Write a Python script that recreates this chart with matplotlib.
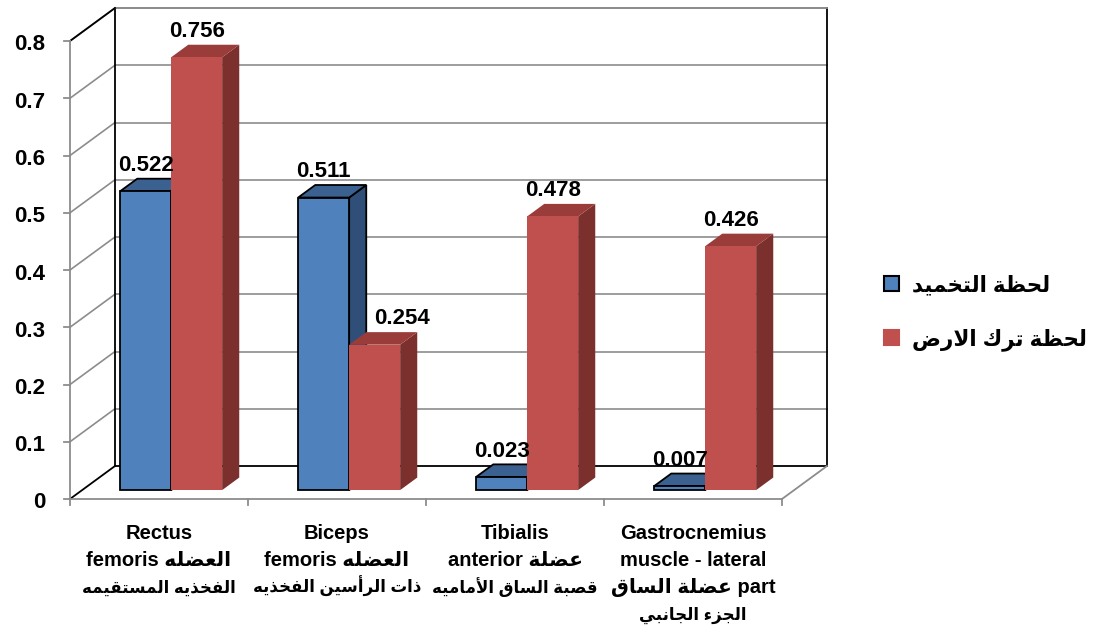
import matplotlib
matplotlib.use("Agg")
import matplotlib.pyplot as plt
from matplotlib.patches import Polygon, Patch

# muscle groups (one label line per list entry)
categories = [
    ["Rectus", "femoris العضله", "الفخذيه المستقيمه"],
    ["Biceps", "femoris العضله", "ذات الرأسين الفخذيه"],
    ["Tibialis", "anterior عضلة", "قصبة الساق الأماميه"],
    ["Gastrocnemius", "muscle - lateral", "عضلة الساق part", "الجزء الجانبي"],
]
series_names = ["لحظة التخميد", "لحظة ترك الارض"]
damping = [0.522, 0.511, 0.023, 0.007]
takeoff = [0.756, 0.254, 0.478, 0.426]
yticks = [0, 0.1, 0.2, 0.3, 0.4, 0.5, 0.6, 0.7, 0.8]

# ---- simple Arabic shaping (presentation forms, visual order) ----
BASES = {'ء': 0xFE80, 'آ': 0xFE81, 'أ': 0xFE83, 'إ': 0xFE87, 'ا': 0xFE8D,
         'ب': 0xFE8F, 'ة': 0xFE93, 'ت': 0xFE95, 'ث': 0xFE99, 'ج': 0xFE9D,
         'ح': 0xFEA1, 'خ': 0xFEA5, 'د': 0xFEA9, 'ذ': 0xFEAB, 'ر': 0xFEAD,
         'ز': 0xFEAF, 'س': 0xFEB1, 'ش': 0xFEB5, 'ص': 0xFEB9, 'ض': 0xFEBD,
         'ط': 0xFEC1, 'ظ': 0xFEC5, 'ع': 0xFEC9, 'غ': 0xFECD, 'ف': 0xFED1,
         'ق': 0xFED5, 'ك': 0xFED9, 'ل': 0xFEDD, 'م': 0xFEE1, 'ن': 0xFEE5,
         'ه': 0xFEE9, 'و': 0xFEED, 'ي': 0xFEF1}
DUAL = set('بتثجحخسشصضطظعغفقكلمنهي')
RIGHT = set('آأإادذرزوة')
LAM_ALEF = {'ا': 0xFEFB, 'أ': 0xFEF7, 'إ': 0xFEF9, 'آ': 0xFEF5}


def is_arabic(w):
    return any('\u0600' <= ch <= '\u06ff' for ch in w)


def shape_word(w):
    units = []
    i = 0
    while i < len(w):
        if w[i] == 'ل' and i + 1 < len(w) and w[i + 1] in LAM_ALEF:
            units.append(('LA', w[i + 1]))
            i += 2
        else:
            units.append(('C', w[i]))
            i += 1

    def jtype(u):
        if u[0] == 'LA':
            return 'R'
        c = u[1]
        return 'D' if c in DUAL else ('R' if c in RIGHT else 'U')

    out = []
    for k, u in enumerate(units):
        t = jtype(u)
        prev = jtype(units[k - 1]) if k > 0 else 'U'
        nxt = jtype(units[k + 1]) if k + 1 < len(units) else 'U'
        jp = t in 'DR' and prev == 'D'
        jn = t == 'D' and nxt in 'DR'
        if u[0] == 'LA':
            out.append(chr(LAM_ALEF[u[1]] + (1 if jp else 0)))
            continue
        c = u[1]
        if c not in BASES:
            out.append(c)
            continue
        f = 3 if (jp and jn) else 1 if jp else 2 if jn else 0
        out.append(chr(BASES[c] + f))
    return ''.join(reversed(out))


def ar(text):
    # LTR line: runs of Arabic words are laid out right to left
    words, run = [], []
    for w in text.split(' '):
        if is_arabic(w):
            run.append(shape_word(w))
        else:
            words += run[::-1]
            run = []
            words.append(w)
    words += run[::-1]
    return ' '.join(words)


# ---- pseudo 3D frame ----
W, H = 1107, 635
X0PX, Y0PX = 70, 499          # front origin in pixels
CATPX, UNITPX = 178, 572.5    # pixels per category / per value unit
DX, DV = 45 / CATPX, 33 / UNITPX   # full depth offset in data units
D0, D1 = 0.27, 0.65           # bar depth span
BW = 0.2865                   # bar width (category units)

FONT = ['Liberation Sans', 'DejaVu Sans']
GRAY = '#8c8c8c'

fig = plt.figure(figsize=(W / 100, H / 100), dpi=100)
ax = fig.add_axes([0, 0, 1, 1])
ax.set_xlim(-X0PX / CATPX, (W - X0PX) / CATPX)
ax.set_ylim((Y0PX - H) / UNITPX, Y0PX / UNITPX)
ax.axis('off')


def P(x, v, d):
    return (x + d * DX, v + d * DV)


n = len(categories)
vmax = yticks[-1]

# gridlines on back wall and side wall
for t in yticks[1:]:
    ax.plot(*zip(P(0, t, 1), P(n, t, 1)), color=GRAY, lw=1.2, zorder=1)
    ax.plot(*zip(P(0, t, 0), P(0, t, 1)), color=GRAY, lw=1.2, zorder=1)

# frame edges
ax.plot(*zip(P(0, 0, 1), P(0, vmax, 1)), color='black', lw=1.3, zorder=2)
ax.plot(*zip(P(n, 0, 1), P(n, vmax, 1)), color='black', lw=1.3, zorder=2)
ax.plot(*zip(P(0, vmax, 1), P(n, vmax, 1)), color=GRAY, lw=1.3, zorder=2)
ax.plot(*zip(P(0, vmax, 0), P(0, vmax, 1)), color='black', lw=1.3, zorder=2)
ax.plot(*zip(P(0, 0, 1), P(n, 0, 1)), color='black', lw=1.3, zorder=2)
ax.plot(*zip(P(0, 0, 0), P(0, 0, 1)), color='black', lw=1.3, zorder=2)
ax.plot(*zip(P(n, 0, 0), P(n, 0, 1)), color=GRAY, lw=1.3, zorder=2)
ax.plot(*zip(P(0, 0, 0), P(n, 0, 0)), color=GRAY, lw=1.3, zorder=2)
ax.plot(*zip(P(0, 0, 0), P(0, vmax, 0)), color=GRAY, lw=1.3, zorder=2)

# ticks
tick_v = 6 / UNITPX
tick_x = 6 / CATPX
for t in yticks:
    ax.plot([-tick_x, 0], [t, t], color=GRAY, lw=1.3, zorder=2)
    ax.text(-25 / CATPX, t - 4 / UNITPX, f"{t:g}", ha='right', va='center',
            fontsize=16, fontweight='bold', family=FONT)
for i in range(n + 1):
    ax.plot([i, i], [0, -tick_v], color=GRAY, lw=1.3, zorder=2)

# category labels, one text per line so pure Arabic lines can be smaller
for i, lines in enumerate(categories):
    for k, s in enumerate(lines):
        size = 12 if all(is_arabic(w) for w in s.split(' ')) else 14.5
        ax.text(i + 0.5, -(40 + 27 * k) / UNITPX, ar(s), ha='center',
                va='baseline', fontsize=size, fontweight='bold', family=FONT)


def bar3d(x0, x1, v, front, top, side, edge):
    lw = 1.3 if edge != 'none' else 0
    faces = [
        ([P(x1, 0, D0), P(x1, v, D0), P(x1, v, D1), P(x1, 0, D1)], side),
        ([P(x0, v, D0), P(x1, v, D0), P(x1, v, D1), P(x0, v, D1)], top),
        ([P(x0, 0, D0), P(x1, 0, D0), P(x1, v, D0), P(x0, v, D0)], front),
    ]
    for pts, col in faces:
        ax.add_patch(Polygon(pts, closed=True, facecolor=col, edgecolor=edge,
                             lw=lw, joinstyle='miter', zorder=3))


series = [
    (damping, '#4f81bd', '#3b6190', '#2f4f78', 'black', -1),
    (takeoff, '#c0504d', '#9a3c3a', '#7c302e', 'none', 0),
]
for i in range(n):
    for vals, front, top, side, edge, k in series:
        x0 = i + 0.5 + k * BW
        x1 = x0 + BW
        v = vals[i]
        bar3d(x0, x1, v, front, top, side, edge)
        cx, _ = P((x0 + x1) / 2, 0, D0)
        _, cy = P(0, v, D1)
        # a label sitting beside a taller left neighbour is pushed right
        shift = 20 if (k == 0 and damping[i] > v) else 0
        ax.annotate(f"{v:.3f}", (cx, cy), xytext=(shift, 2),
                    textcoords='offset points', ha='center', va='bottom',
                    fontsize=16, fontweight='bold', family=FONT, zorder=4)

handles = [Patch(facecolor=s[1], edgecolor=s[4] if s[4] != 'none' else s[1],
                 lw=1.5) for s in series]
leg = ax.legend(handles, [ar(s) for s in series_names], loc='center left',
                bbox_to_anchor=(865 / W, 1 - 313 / H), frameon=False,
                prop={'family': FONT, 'weight': 'bold', 'size': 15.5},
                handlelength=0.7, handleheight=0.7, handletextpad=0.6,
                labelspacing=1.5)

fig.savefig('out.png', dpi=100)
